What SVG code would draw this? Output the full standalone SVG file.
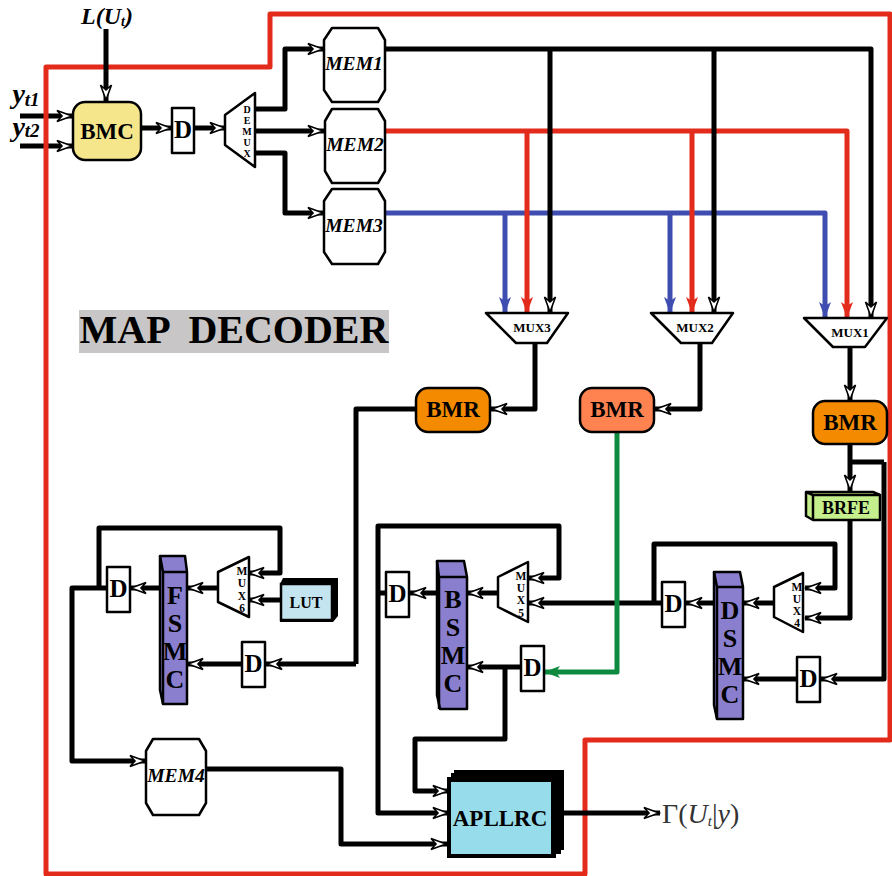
<svg xmlns="http://www.w3.org/2000/svg" width="892" height="876" viewBox="0 0 892 876">
<style>
text{font-family:"Liberation Serif","Times New Roman",serif;font-weight:bold;fill:#000;text-anchor:middle}
.box{stroke:#000;stroke-width:2.5;stroke-linejoin:round}
.w{fill:#fff}
.c{fill:none;stroke:#000;stroke-width:5;stroke-linejoin:round;marker-end:url(#open)}
.n{fill:none;stroke:#000;stroke-width:5;stroke-linejoin:round}
.r{fill:none;stroke:#e32b1c;stroke-width:5;stroke-linejoin:round;marker-end:url(#red)}
.b{fill:none;stroke:#3f4db0;stroke-width:5;stroke-linejoin:round;marker-end:url(#blue)}
.g{fill:none;stroke:#0d8a3e;stroke-width:5;stroke-linejoin:round;marker-end:url(#green)}
.mem{font-style:italic;font-size:19.500px}
.d{font-size:25px}
.bmr{font-size:23px}
.bar{font-size:26px}
.muxh{font-size:13px}
.muxv{font-size:11.500px}
.dem{font-size:10px}
.smc{fill:#8a7fce}
</style>
<defs>
<marker id="open" markerUnits="userSpaceOnUse" markerWidth="20" markerHeight="16" refX="17" refY="7" orient="auto"><path d="M16,7 L1,1.500 L6,7 L1,12.500 Z" fill="#fff" stroke="#000" stroke-width="1.6"/></marker>
<marker id="red" markerUnits="userSpaceOnUse" markerWidth="20" markerHeight="16" refX="17" refY="7" orient="auto"><path d="M17,7 L1,1 L5,7 L1,13 Z" fill="#e32b1c"/></marker>
<marker id="blue" markerUnits="userSpaceOnUse" markerWidth="20" markerHeight="16" refX="17" refY="7" orient="auto"><path d="M17,7 L1,1 L5,7 L1,13 Z" fill="#3f4db0"/></marker>
<marker id="green" markerUnits="userSpaceOnUse" markerWidth="20" markerHeight="16" refX="17" refY="7" orient="auto"><path d="M17,7 L1,1 L5,7 L1,13 Z" fill="#0d8a3e"/></marker>
</defs>

<g id="input-connectors">
<path class="c" d="M20,116 H73"/>
<path class="c" d="M20,146 H73"/>
</g>

<path id="frame" d="M46,67 H270 V14 H890 V740 H585 V874 H46 Z" fill="none" stroke="#e32b1c" stroke-width="5" stroke-linejoin="round"/>

<g id="connectors">
<path class="c" d="M106,29 V101"/>
<path class="c" d="M141,128 H172"/>
<path class="c" d="M194,128 H226"/>
<path class="c" d="M255,109 H285 V49 H324"/>
<path class="c" d="M255,131 H324"/>
<path class="c" d="M255,153 H285 V213 H324"/>
<path class="b" d="M385,213 H825 V318"/>
<path class="b" d="M505,213 V313"/>
<path class="b" d="M670,213 V313"/>
<path class="r" d="M385,131 H847 V318"/>
<path class="r" d="M527,131 V313"/>
<path class="r" d="M692,131 V313"/>
<path class="c" d="M385,49 H871 V318"/>
<path class="c" d="M550,49 V313"/>
<path class="c" d="M714,49 V313"/>
<path class="c" d="M535,343 V409 H491"/>
<path class="c" d="M700,343 V409 H655"/>
<path class="c" d="M850,347 V401"/>
<path class="c" d="M850,444 V491"/>
<path class="n" d="M850,462 H884"/>
<path class="c" d="M884,462 V679 H821"/>
<path class="c" d="M850,520 V618 H805"/>
<path class="c" d="M654,603 V544 H835 V588 H805"/>
<path class="c" d="M774,603 H743"/>
<path class="c" d="M715,603 H686"/>
<path class="c" d="M797,679 H743"/>
<path class="c" d="M662,603 H528"/>
<path class="c" d="M498,593 H467"/>
<path class="c" d="M438,593 H410"/>
<path class="c" d="M378,593 V526 H559 V578 H528"/>
<path class="n" d="M378,593 H386"/>
<path class="c" d="M378,593 V813 H449"/>
<path class="c" d="M521,667 H467"/>
<path class="c" d="M505,667 V739 H415 V791 H449"/>
<path class="g" d="M617,432 V672 H544"/>
<path class="n" d="M416,409 H356 V664"/>
<path class="c" d="M356,664 H266"/>
<path class="c" d="M242,664 H187"/>
<path class="c" d="M218,588 H187"/>
<path class="c" d="M160,588 H130"/>
<path class="c" d="M280,600 H248"/>
<path class="c" d="M99,588 V528 H280 V573 H248"/>
<path class="c" d="M107,588 H72 V761 H146"/>
<path class="c" d="M206,769 H341 V844 H447"/>
<path class="c" d="M564,813 H660"/>
</g>

<g id="Lut-label"><text x="107" y="24" font-size="24" font-style="italic">L(U<tspan font-size="14" dy="2">t</tspan><tspan dy="-2">)</tspan></text></g>
<g id="yt1-label"><text x="26" y="103" font-size="28" font-style="italic">y<tspan font-size="19" dy="3">t1</tspan></text></g>
<g id="yt2-label"><text x="26" y="136" font-size="28" font-style="italic">y<tspan font-size="19" dy="1">t2</tspan></text></g>

<g id="bmc"><rect class="box" x="73" y="102" width="68" height="58" rx="12" fill="#f5e68c"/><text class="bmr" x="107" y="139">BMC</text></g>
<g id="d1"><rect class="box w" x="172" y="108" width="22" height="45"/><text class="d" x="183" y="138">D</text></g>
<g id="demux"><path class="box w" d="M255,93 V167 L225,145 V115 Z"/>
<text class="dem" x="247" y="113">D</text><text class="dem" x="247" y="124">E</text><text class="dem" x="247" y="135">M</text><text class="dem" x="247" y="146">U</text><text class="dem" x="247" y="157">X</text></g>
<g id="mem1"><path class="box w" d="M332,28 H378 L385,40 V90 L378,102 H332 L324,90 V40 Z"/><text class="mem" x="354" y="70">MEM1</text></g>
<g id="mem2"><path class="box w" d="M332,109 H378 L385,121 V171 L378,183 H332 L325,171 V121 Z"/><text class="mem" x="355" y="151">MEM2</text></g>
<g id="mem3"><path class="box w" d="M332,189 H378 L385,201 V252 L378,264 H332 L324,252 V201 Z"/><text class="mem" x="354" y="232">MEM3</text></g>

<g id="title"><rect x="79" y="310" width="310" height="43" fill="#c8c6c6"/><text x="234" y="343" font-size="40" style="white-space:pre">MAP  DECODER</text></g>

<g id="mux3"><path class="box w" d="M486,313 H568 L547,343 H516 Z"/><text class="muxh" x="532" y="332">MUX3</text></g>
<g id="mux2"><path class="box w" d="M651,313 H733 L712,343 H681 Z"/><text class="muxh" x="695" y="332">MUX2</text></g>
<g id="mux1"><path class="box w" d="M804,318 H887 L865,347 H833 Z"/><text class="muxh" x="850" y="337">MUX1</text></g>

<g id="bmr1"><rect class="box" x="416" y="388" width="74" height="44" rx="12" fill="#f38a00"/><text class="bmr" x="453" y="417">BMR</text></g>
<g id="bmr2"><rect class="box" x="580" y="388" width="74" height="44" rx="12" fill="#ff8350"/><text class="bmr" x="617" y="417">BMR</text></g>
<g id="bmr3"><rect class="box" x="813" y="401" width="74" height="43" rx="12" fill="#f38a00"/><text class="bmr" x="850" y="430">BMR</text></g>

<g id="brfe"><path class="box" d="M806,492 H873 L880,495 V520 H813 L806,516 Z" fill="#c4ef8c"/><path class="box" fill="none" d="M806,492 L813,495 H880 M813,495 V520" stroke-width="2"/><text x="846" y="514" font-size="18">BRFE</text></g>

<g id="mux4"><path class="box w" d="M803,573 V632 L774,617 V587 Z"/><text class="muxv" x="797" y="591">M</text><text class="muxv" x="797" y="603">U</text><text class="muxv" x="797" y="615">X</text><text class="muxv" x="797" y="627">4</text></g>
<g id="dsmc"><path class="box smc" d="M714,572 H740 L743,587 V719 H717 L714,705 Z"/><path fill="none" stroke="#000" stroke-width="2.5" d="M714,572 L717,587 H743 M717,587 V719"/><text class="bar" x="730" y="619">D</text><text class="bar" x="730" y="647">S</text><text class="bar" x="730" y="675">M</text><text class="bar" x="730" y="703">C</text></g>
<g id="d4"><rect class="box w" x="662" y="582" width="23" height="45"/><text class="d" x="673.500" y="612">D</text></g>
<g id="d5"><rect class="box w" x="797" y="657" width="23" height="45"/><text class="d" x="808.500" y="687">D</text></g>

<g id="mux5"><path class="box w" d="M528,562 V622 L498,607 V577 Z"/><text class="muxv" x="521" y="580">M</text><text class="muxv" x="521" y="592">U</text><text class="muxv" x="521" y="604">X</text><text class="muxv" x="521" y="617">5</text></g>
<g id="bsmc"><path class="box smc" d="M437,561 H464 L467,577 V709 H440 L437,695 Z"/><path fill="none" stroke="#000" stroke-width="2.5" d="M437,561 L439,577 H467 M439,577 V709"/><text class="bar" x="453" y="608">B</text><text class="bar" x="453" y="636">S</text><text class="bar" x="453" y="664">M</text><text class="bar" x="453" y="692">C</text></g>
<g id="d2"><rect class="box w" x="386" y="572" width="23" height="45"/><text class="d" x="397.500" y="602">D</text></g>
<g id="d3"><rect class="box w" x="521" y="646" width="23" height="45"/><text class="d" x="532.500" y="676">D</text></g>

<g id="mux6"><path class="box w" d="M249,557 V617 L218,602 V572 Z"/><text class="muxv" x="242" y="575">M</text><text class="muxv" x="242" y="587">U</text><text class="muxv" x="242" y="600">X</text><text class="muxv" x="242" y="612">6</text></g>
<g id="lut"><path d="M283,578 H338 V616 L333,622 H280 V584 Z" fill="#000"/><rect x="281" y="584" width="51" height="36" fill="#c4e4f0" stroke="#000" stroke-width="2.500"/><text x="306" y="608" font-size="16">LUT</text></g>
<g id="fsmc"><path class="box smc" d="M160,556 H185 L187,572 V704 H163 L160,690 Z"/><path fill="none" stroke="#000" stroke-width="2.5" d="M160,556 L163,572 H187 M163,572 V704"/><text class="bar" x="175" y="604">F</text><text class="bar" x="175" y="632">S</text><text class="bar" x="175" y="660">M</text><text class="bar" x="175" y="688">C</text></g>
<g id="d6"><rect class="box w" x="107" y="567" width="23" height="45"/><text class="d" x="118.500" y="597">D</text></g>
<g id="d7"><rect class="box w" x="242" y="642" width="23" height="45"/><text class="d" x="253.500" y="672">D</text></g>

<g id="mem4"><path class="box w" d="M153,739 H199 L206,751 V803 L199,815 H153 L146,803 V751 Z"/><text class="mem" x="176" y="782">MEM4</text></g>

<g id="apllrc"><rect x="454" y="770" width="110" height="80" fill="#000"/><rect x="451" y="773" width="110" height="81" fill="#000"/><rect x="447" y="777" width="109" height="81" fill="#000"/><rect x="451" y="782" width="100" height="72" fill="#97dcea"/><text x="500" y="826" font-size="23">APLLRC</text></g>

<g id="output-label"><text x="662" y="823" font-size="28" style="font-weight:normal;text-anchor:start;fill:#333">Γ(<tspan font-style="italic">U</tspan><tspan font-style="italic" font-size="15" dy="3">t</tspan><tspan dy="-3">|</tspan><tspan font-style="italic">y</tspan>)</text></g>
</svg>
